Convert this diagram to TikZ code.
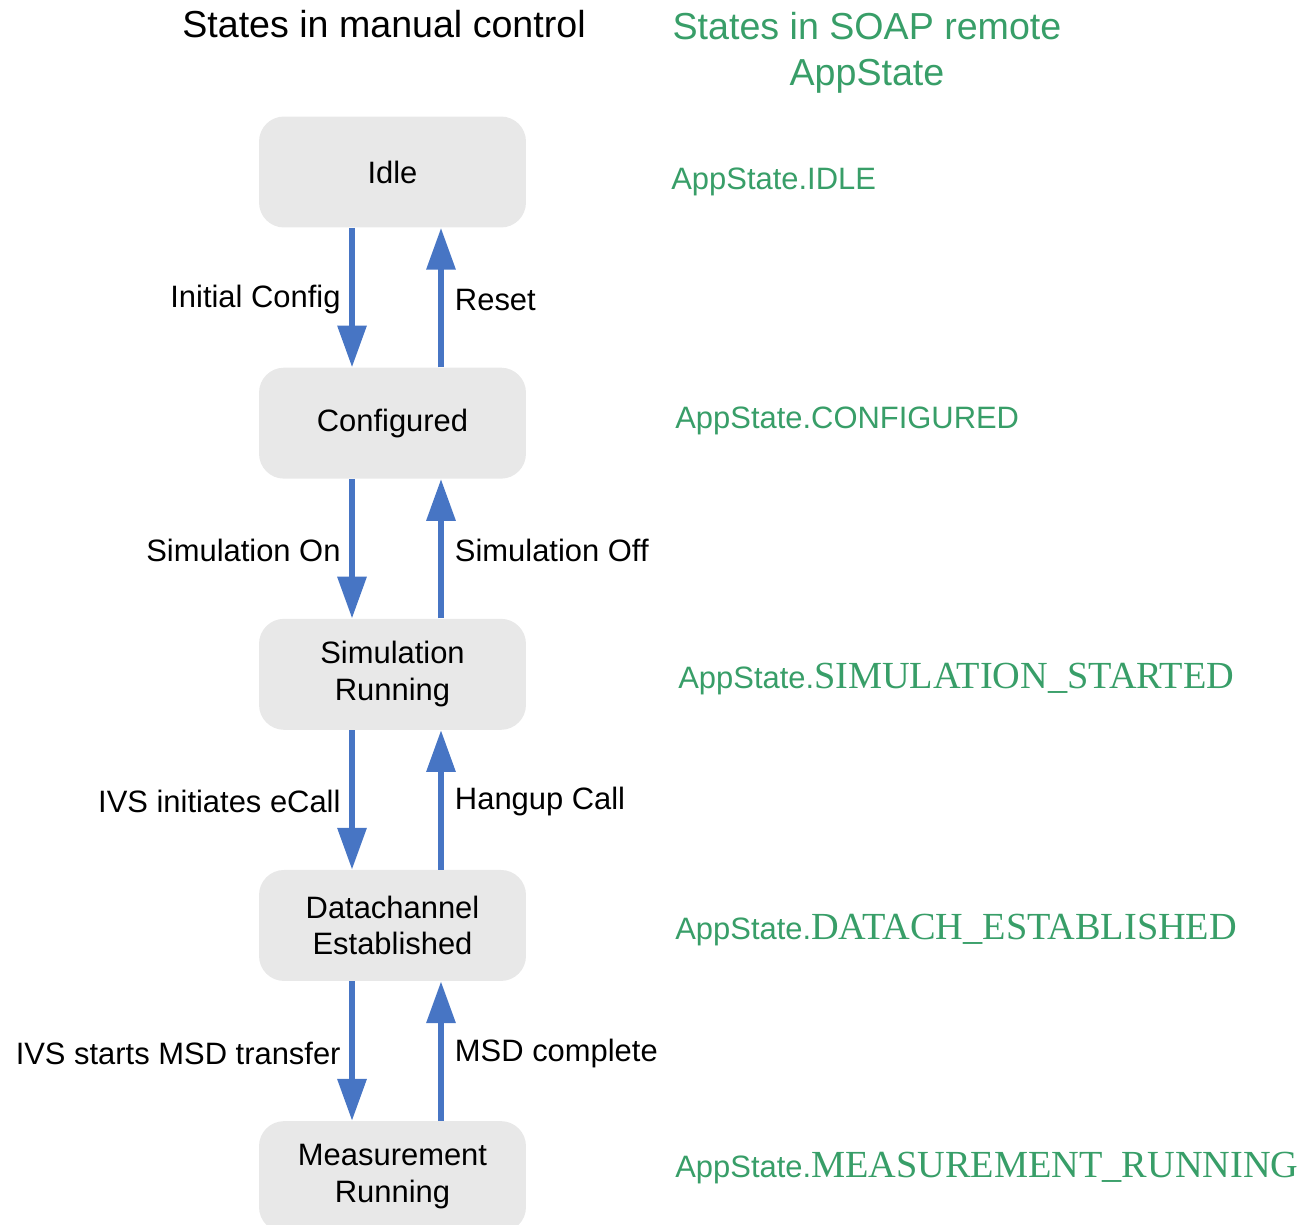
\documentclass[tikz,border=0pt]{standalone}
\usepackage{fontspec}
\setmainfont{Liberation Sans}
\newfontfamily\timesfont{Liberation Serif}
\usetikzlibrary{arrows.meta,positioning}

\definecolor{boxgray}{RGB}{232,232,232}
\definecolor{arrowblue}{RGB}{71,117,196}
\definecolor{soapgreen}{RGB}{56,158,104}

\newcommand{\upper}[1]{{\timesfont\fontsize{21.8}{24}\selectfont #1}}

\begin{document}
\begin{tikzpicture}[x=0.02cm,y=-0.02cm,
  state/.style={fill=boxgray,rounded corners=0.5cm,minimum width=5.34cm,
    minimum height=2.22cm,align=center,font=\fontsize{17.6}{21}\selectfont},
  flow/.style={line width=3.4pt,color=arrowblue,
    -{Triangle[length=23.8pt,width=16pt]}},
  lbl/.style={inner sep=0pt,text=black,yshift=-0.04cm,font=\fontsize{17.6}{21}\selectfont},
  remote/.style={text=soapgreen,anchor=base west,inner sep=0pt,
    font=\fontsize{17.6}{21}\selectfont}]

\useasboundingbox (0,0) rectangle (1310,1224);

% Column headings.
\node[anchor=base,font=\fontsize{21.4}{26}\selectfont] (mantitle) at (384,37)
  {States in manual control};
\node[text=soapgreen,align=center,font=\fontsize{21.4}{26}\selectfont] (soaptitle) at (867,53)
  {States in SOAP remote\\AppState};

% States, top to bottom.
\node[state] (idle) at (392.5,172) {Idle};
\node[state,below=2.79cm of idle] (cfg) {Configured};
\node[state,below=2.79cm of cfg] (sim) {Simulation\\Running};
\node[state,below=2.79cm of sim] (datach) {Datachannel\\Established};
\node[state,below=2.79cm of datach] (meas) {Measurement\\Running};

% Transitions down (left) and back up (right).
\draw[flow] ([xshift=-0.81cm]idle.south) -- ([xshift=-0.81cm]cfg.north)
  node[lbl,midway,left=0.17cm] {Initial Config};
\draw[flow] ([xshift=0.97cm]cfg.north) -- ([xshift=0.97cm]idle.south)
  node[lbl,midway,right=0.22cm] {Reset};

\draw[flow] ([xshift=-0.81cm]cfg.south) -- ([xshift=-0.81cm]sim.north)
  node[lbl,midway,left=0.17cm] {Simulation On};
\draw[flow] ([xshift=0.97cm]sim.north) -- ([xshift=0.97cm]cfg.south)
  node[lbl,midway,right=0.22cm] {Simulation Off};

\draw[flow] ([xshift=-0.81cm]sim.south) -- ([xshift=-0.81cm]datach.north)
  node[lbl,midway,left=0.17cm] {IVS initiates eCall};
\draw[flow] ([xshift=0.97cm]datach.north) -- ([xshift=0.97cm]sim.south)
  node[lbl,midway,right=0.22cm] {Hangup Call};

\draw[flow] ([xshift=-0.81cm]datach.south) -- ([xshift=-0.81cm]meas.north)
  node[lbl,midway,left=0.17cm] {IVS starts MSD transfer};
\draw[flow] ([xshift=0.97cm]meas.north) -- ([xshift=0.97cm]datach.south)
  node[lbl,midway,right=0.22cm] {MSD complete};

% Matching SOAP AppState values.
\node[remote] (rIdle) at (671,189) {AppState.IDLE};
\node[remote] (rCfg) at (675,428) {AppState.CONFIGURED};
\node[remote] (rSim) at (678,688) {AppState.\upper{SIMULATION\_STARTED}};
\node[remote] (rDatach) at (675,939) {AppState.\upper{DATACH\_ESTABLISHED}};
\node[remote] (rMeas) at (675,1177) {AppState.\upper{MEASUREMENT\_RUNNING}};

\end{tikzpicture}
\end{document}
